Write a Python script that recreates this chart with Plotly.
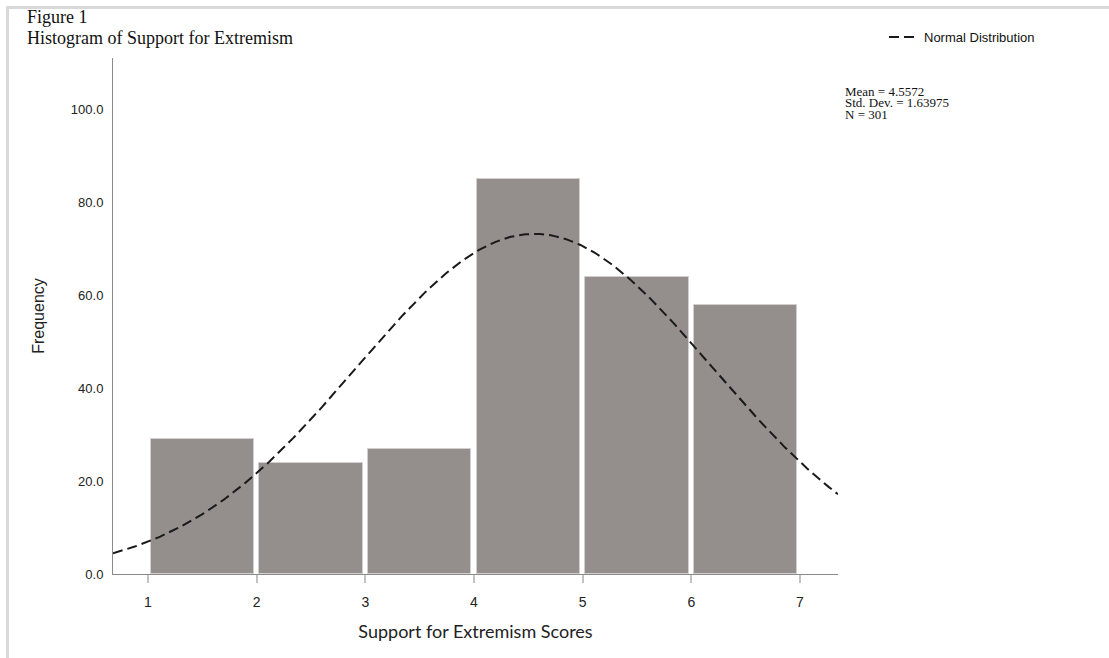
import numpy as np
import plotly.graph_objects as go

# ---- data ----
bin_starts = [1, 2, 3, 4, 5, 6]
frequencies = [29, 24, 27, 85, 64, 58]
x_ticks = [1, 2, 3, 4, 5, 6, 7]
y_ticks = [0, 20, 40, 60, 80, 100]
MEAN = 4.5572
STD_DEV = 1.63975
N_OBS = 301
BIN_WIDTH = 1.0

stats_lines = ["Mean = 4.5572", "Std. Dev. = 1.63975", "N = 301"]

# ---- layout geometry (pixels) ----
W, H = 1109, 658
L, R = 113, 838   # plot area left/right
T, B = 58, 574    # plot area top/bottom
X_RANGE = [0.678, 7.35]
Y_RANGE = [0, 111.1]


def px2x(px):
    return (px - L) / (R - L)


def py2y(py):
    return (B - py) / (B - T)


SERIF = "Liberation Serif, Times New Roman, serif"
SANS = "Liberation Sans, Arial, sans-serif"

fig = go.Figure()

fig.add_trace(go.Bar(
    x=bin_starts, y=frequencies, width=0.95 * BIN_WIDTH, offset=0.025,
    marker=dict(color="#948f8d", line=dict(color="#d2cfce", width=1)),
    showlegend=False, hoverinfo="x+y",
))

# normal curve defined by the mean, SD and N printed on the chart
xc = np.linspace(X_RANGE[0], X_RANGE[1], 400)
yc = N_OBS * BIN_WIDTH / (STD_DEV * np.sqrt(2 * np.pi)) * np.exp(-0.5 * ((xc - MEAN) / STD_DEV) ** 2)
fig.add_trace(go.Scatter(
    x=xc, y=yc, mode="lines", name="Normal Distribution",
    line=dict(color="#1a1a1a", width=2, dash="10px,5px"),
    cliponaxis=True,
))

annotations = [
    dict(text="Figure 1", x=px2x(25), y=py2y(17), xanchor="left", yanchor="middle",
         font=dict(family=SERIF, size=18, color="#111")),
    dict(text="Histogram of Support for Extremism", x=px2x(25), y=py2y(38),
         xanchor="left", yanchor="middle", font=dict(family=SERIF, size=18, color="#111")),
]
for i, line in enumerate(stats_lines):
    annotations.append(dict(text=line, x=px2x(843), y=py2y(91 + i * 11.6),
                            xanchor="left", yanchor="middle",
                            font=dict(family=SERIF, size=13, color="#111")))
for a in annotations:
    a.update(xref="paper", yref="paper", showarrow=False)

shapes = [
    dict(type="line", xref="paper", yref="paper", x0=px2x(6.5), x1=px2x(W + 5),
         y0=py2y(7.5), y1=py2y(7.5), line=dict(color="#d9d9d9", width=3), layer="above"),
    dict(type="line", xref="paper", yref="paper", x0=px2x(7.5), x1=px2x(7.5),
         y0=py2y(6.5), y1=py2y(H + 5), line=dict(color="#d9d9d9", width=3), layer="above"),
]

fig.update_layout(
    width=W, height=H,
    margin=dict(l=L, r=W - R, t=T, b=H - B, pad=0),
    paper_bgcolor="white", plot_bgcolor="white",
    bargap=0,
    font=dict(family=SANS, color="#222"),
    annotations=annotations,
    shapes=shapes,
    legend=dict(x=px2x(884), y=py2y(37), xanchor="left", yanchor="middle",
                bgcolor="rgba(0,0,0,0)", font=dict(family=SANS, size=13, color="#111"),
                itemwidth=30),
    xaxis=dict(range=X_RANGE, tickvals=x_ticks, ticks="outside", ticklen=8,
               tickcolor="#c2c2c2", tickwidth=2, showline=True, linecolor="#8a8a8a",
               linewidth=1, showgrid=False, zeroline=False,
               tickfont=dict(family=SANS, size=14, color="#222"),
               ticklabelstandoff=7,
               title=dict(text="Support for Extremism Scores",
                          font=dict(family="Lato, Open Sans, sans-serif", size=18, color="#222"),
                          standoff=16)),
    yaxis=dict(range=Y_RANGE, tickvals=y_ticks, tickformat=".1f", ticks="",
               showline=True, linecolor="#8a8a8a", linewidth=1, showgrid=False,
               zeroline=False, tickfont=dict(family=SANS, size=13, color="#222"),
               ticklabelstandoff=6,
               title=dict(text="Frequency", font=dict(family=SANS, size=16, color="#222"),
                          standoff=22)),
)

fig.write_html("out.html", config={"displayModeBar": False},
               post_script="document.body.style.margin='0';")
